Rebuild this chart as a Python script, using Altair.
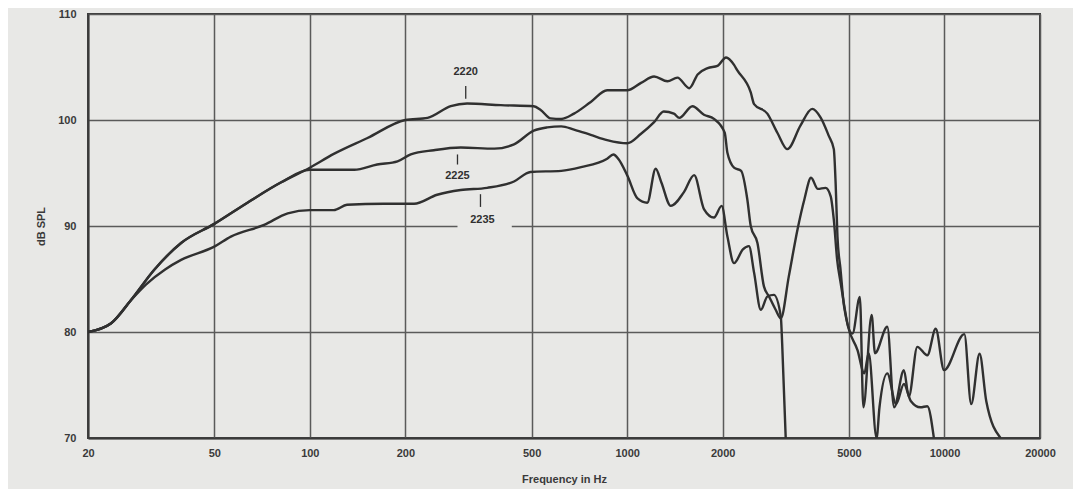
import altair as alt
import pandas as pd

# ---- data ----
freq_2220 = [20, 23.6, 27.3, 32.3, 39.3, 50, 63.6, 81, 100, 119, 152, 200, 235, 278, 313, 400, 508, 534, 574, 620,
             680, 768, 865, 1000, 1106, 1216, 1340, 1440, 1570, 1668, 1794, 1926, 2050, 2172, 2222, 2452, 2512, 2766,
             2974, 3198, 3520, 3830, 4068, 4320, 4480, 4540, 4600, 4700, 4828, 5130, 5412, 5552, 5896, 6040, 6604,
             6940, 7450, 7720, 8212, 8830, 9384, 9970, 11550, 12140, 12900, 13540, 15020]
db_2220 = [80.0, 80.8, 83.0, 85.85, 88.4, 90.2, 92.2, 94.1, 95.5, 96.8, 98.3, 100.0, 100.2, 101.3, 101.55, 101.4, 101.3,
           100.95, 100.15, 100.1, 100.6, 101.7, 102.8, 102.8, 103.5, 104.1, 103.65, 104.0, 103.0, 104.3, 104.9, 105.1,
           105.9, 105.2, 104.7, 102.6, 101.5, 100.6, 98.8, 97.25, 99.5, 101.05, 100.25, 98.5, 97.25, 94.0, 89.0, 86.0,
           82.4, 79.85, 83.3, 72.9, 81.6, 78.0, 80.5, 72.9, 76.4, 73.9, 78.6, 77.8, 80.3, 76.4, 79.8, 73.2, 77.95,
           73.5, 70.0]

freq_2225 = [20, 23.6, 27.3, 32.3, 39.3, 50, 63.6, 81, 100, 119, 138, 163, 189, 208, 246, 299, 382, 440, 508, 560, 620,
             680, 768, 865, 1000, 1106, 1216, 1304, 1404, 1460, 1606, 1746, 1878, 2030, 2070, 2172, 2287, 2392, 2452,
             2574, 2698, 2800, 2938, 3050, 3232, 3444, 3618, 3798, 3990, 4220, 4380, 4480, 4590, 4710, 4960, 5320,
             5590, 5770, 6110, 6240, 6604, 7040, 7450, 7830, 8400, 8830, 9260]
db_2225 = [80.0, 80.8, 83.0, 85.85, 88.4, 90.2, 92.2, 94.1, 95.3, 95.3, 95.3, 95.8, 96.1, 96.75, 97.15, 97.4, 97.3, 97.7,
           99.0, 99.3, 99.4, 99.1, 98.6, 98.1, 97.8, 98.7, 99.8, 100.8, 100.6, 100.2, 101.3, 100.5, 100.1, 98.8, 96.9,
           95.5, 95.2, 92.5, 90.0, 88.4, 84.3, 83.35, 82.1, 81.3, 85.25, 89.7, 92.5, 94.55, 93.5, 93.6, 92.8, 90.6,
           86.8, 84.6, 80.6, 78.3, 76.1, 78.0, 70.0, 72.9, 76.1, 73.2, 75.1, 73.5, 72.9, 73.0, 70.0]

freq_2235 = [20, 23.6, 27.3, 30.5, 35, 39.3, 50, 56.4, 71.8, 85.2, 100, 119, 131, 171, 213, 252, 299, 362, 440, 496,
             620, 716, 865, 905, 940, 1000, 1078, 1157, 1230, 1282, 1372, 1510, 1626, 1746, 1878, 1985, 2070, 2172,
             2316, 2420, 2512, 2638, 2766, 2900, 3050, 3080, 3160]
db_2235 = [80.0, 80.8, 83.0, 84.5, 85.9, 86.8, 88.05, 89.0, 90.1, 91.2, 91.5, 91.5, 92.0, 92.1, 92.1, 92.95, 93.4, 93.6,
           94.2, 95.1, 95.2, 95.55, 96.35, 96.75, 96.3, 94.8, 92.6, 92.2, 95.4, 94.1, 91.9, 93.2, 94.8, 91.6, 90.8,
           91.9, 89.0, 86.5, 87.8, 88.1, 85.6, 82.1, 83.35, 83.5, 81.45, 78.9, 70.0]

series_names = ["2220", "2225", "2235"]

label_text = ["2220", "2225", "2235"]
label_freq = [310, 292, 350]
label_db = [104.5, 94.7, 90.6]
pointer_freq = [310, 292, 345]
pointer_db_top = [103.2, 96.75, 93.0]
pointer_db_bottom = [102.0, 95.8, 91.8]

# label background (gap in the 90 dB grid line behind "2235")
gap_freq = [292]
gap_freq2 = [433]
gap_db = [89.3]
gap_db2 = [91.6]

x_ticks = [20, 50, 100, 200, 500, 1000, 2000, 5000, 10000, 20000]
y_ticks = [70, 80, 90, 100, 110]

# ---- tables ----
rows = []
for name, fr, db in zip(series_names, [freq_2220, freq_2225, freq_2235], [db_2220, db_2225, db_2235]):
    for i, (f, d) in enumerate(zip(fr, db)):
        rows.append({"series": name, "freq": f, "db": d, "order": i})
df = pd.DataFrame(rows)

labels_df = pd.DataFrame({"text": label_text, "freq": label_freq, "db": label_db})
pointers_df = pd.DataFrame({"freq": pointer_freq, "top": pointer_db_top, "bottom": pointer_db_bottom})
gap_df = pd.DataFrame({"f1": gap_freq, "f2": gap_freq2, "d1": gap_db, "d2": gap_db2})

BG = "#e8e8e6"
INK = "#303030"
FONT = "Liberation Sans"

x_scale = alt.Scale(type="log", domain=[20, 20000], nice=False)
y_scale = alt.Scale(domain=[70, 110], nice=False, zero=False)

x_axis = alt.Axis(values=x_ticks, format="d", title="Frequency in Hz", grid=True, ticks=False,
                  labelPadding=9, labelFontSize=11, labelFontWeight="bold", labelColor="#3a3a3a",
                  labelFont=FONT, titleFont=FONT, titleFontSize=11, titleFontWeight="bold",
                  titleColor="#3a3a3a", titleY=41, titleBaseline="middle", labelFlush=False)
y_axis = alt.Axis(values=y_ticks, title="dB SPL", grid=True, ticks=False,
                  labelPadding=12, labelFontSize=11, labelFontWeight="bold", labelColor="#3a3a3a",
                  labelFont=FONT, titleFont=FONT, titleFontSize=11, titleFontWeight="bold",
                  titleColor="#3a3a3a", titleX=-47, titleY=212, titleAngle=270,
                  titleAlign="center", titleBaseline="middle")

base = alt.Chart(df)

gap = alt.Chart(gap_df).mark_rect(color=BG).encode(
    x=alt.X("f1:Q", scale=x_scale, axis=x_axis),
    x2="f2:Q",
    y=alt.Y("d1:Q", scale=y_scale, axis=y_axis),
    y2="d2:Q",
)

lines = base.mark_line(color=INK, strokeWidth=2.4, interpolate="monotone", clip=True,
                       strokeJoin="round").encode(
    x=alt.X("freq:Q", scale=x_scale),
    y=alt.Y("db:Q", scale=y_scale),
    detail="series:N",
    order="order:Q",
)

pointers = alt.Chart(pointers_df).mark_rule(color=INK, strokeWidth=1.3).encode(
    x=alt.X("freq:Q", scale=x_scale),
    y=alt.Y("top:Q", scale=y_scale),
    y2="bottom:Q",
)

texts = alt.Chart(labels_df).mark_text(font=FONT, fontSize=11, fontWeight="bold", color=INK,
                                       align="center", baseline="middle").encode(
    x=alt.X("freq:Q", scale=x_scale),
    y=alt.Y("db:Q", scale=y_scale),
    text="text:N",
)

chart = alt.layer(gap, lines, pointers, texts).properties(
    width=952, height=424,
    autosize=alt.AutoSizeParams(type="none"),
    padding={"left": 80, "top": 6, "right": 33, "bottom": 51},
    background=BG,
).configure_axis(
    domainColor="#3a3a3a", domainWidth=2,
    gridColor="#5a5a5a", gridWidth=1.5, gridOpacity=1,
).configure_view(
    stroke="#3a3a3a", strokeWidth=2, fill=BG,
)

chart.save("out.html", embed_options={"renderer": "svg", "actions": False})
